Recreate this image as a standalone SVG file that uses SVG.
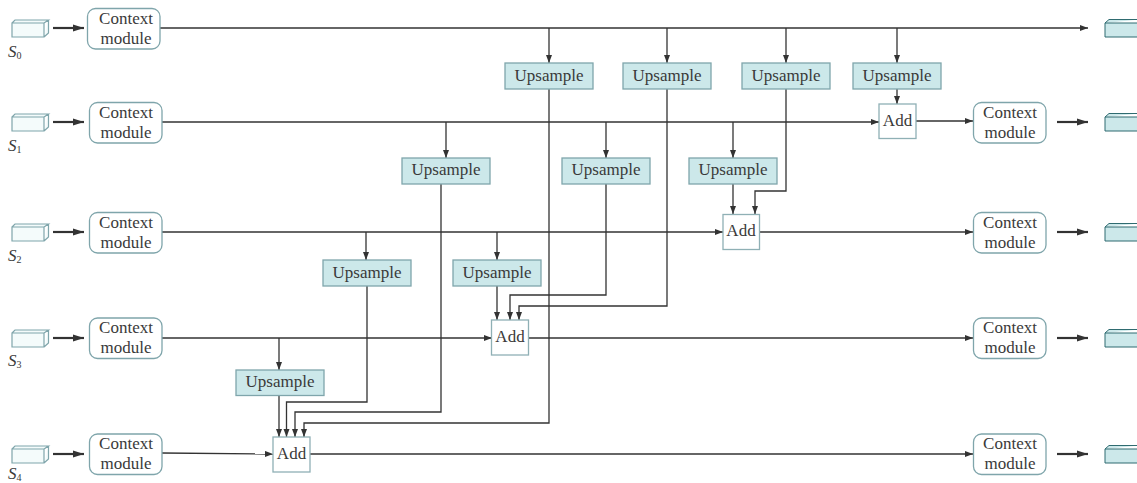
<svg xmlns="http://www.w3.org/2000/svg" width="1137" height="483" viewBox="0 0 1137 483">
<style>
text{font-family:"Liberation Serif","Times New Roman",serif;font-size:17px;fill:#3a3a3a;text-anchor:middle}
.cm{fill:#fff;stroke:#7fa5ab;stroke-width:1.3}
.up{fill:#cce8ea;stroke:#7fa5ab;stroke-width:1.3}
.add{fill:#fff;stroke:#8fb0b5;stroke-width:1.3}
.in path{fill:#f4fbfb;stroke:#7fa5ab;stroke-width:1.2}
.out path{fill:#cce8ea;stroke:#2f6b70;stroke-width:1}
.s{font-style:italic;font-size:17px;text-anchor:start}
.sub{font-style:normal;font-size:10px;text-anchor:start}
#connectors path{fill:none;stroke:#333;stroke-width:1.3;marker-end:url(#a)}
#connectors path.t{stroke-width:2.2;marker-end:url(#b)}
</style>
<defs>
<marker id="a" markerUnits="userSpaceOnUse" markerWidth="9" markerHeight="7" refX="8" refY="3" orient="auto"><path d="M0 0L8 3L0 6Z" fill="#333"/></marker>
<marker id="b" markerUnits="userSpaceOnUse" markerWidth="12" markerHeight="8" refX="11" refY="4" orient="auto"><path d="M0 .5L11 4L0 7.500Z" fill="#333"/></marker>
<g id="cub" class="in"><path d="M12 23H44V37H12ZM12 23L15 20H48.500L44 23M44 37L48.500 33V20"/></g>
<g id="cubo" class="out"><path d="M1105 23H1140V37H1105ZM1105 23L1109 19.500H1140"/></g>
</defs>
<g id="connectors">
<path d="M160 28H1088"/>
<path d="M162 122H879"/>
<path d="M162 232H723"/>
<path d="M162 338H492"/>
<path d="M162 453L273 454"/>
<path d="M916 121H973"/>
<path d="M759 232H973"/>
<path d="M528 338H973"/>
<path d="M310 454H973"/>
<path d="M549 28V63"/><path d="M667 28V63"/><path d="M786 28V63"/><path d="M897 28V63"/>
<path d="M897 89V104"/>
<path d="M446 122V158"/><path d="M606 122V158"/><path d="M733 122V158"/>
<path d="M733 184V214"/>
<path d="M786 89V191H755V214"/>
<path d="M366 232V260"/><path d="M497 232V260"/>
<path d="M497 286V320"/>
<path d="M606 184V295H510V320"/>
<path d="M667 89V306H519V320"/>
<path d="M279 338V370"/>
<path d="M279 395V437"/>
<path d="M367 286V402H286.500V437"/>
<path d="M441 184V412H295V437"/>
<path d="M549 89V423H304V437"/>
<path class="t" d="M53 28H84"/><path class="t" d="M53 122H84"/><path class="t" d="M53 232H84"/><path class="t" d="M53 338H84"/><path class="t" d="M53 454H84"/>
<path class="t" d="M1057 122H1088"/><path class="t" d="M1057 232H1088"/><path class="t" d="M1057 338H1088"/><path class="t" d="M1057 454H1088"/>
</g>
<g id="s0"><use href="#cub"/><text class="s" x="8" y="57">S<tspan class="sub" dy="2">0</tspan></text></g>
<g id="s1"><use href="#cub" y="94"/><text class="s" x="8" y="151">S<tspan class="sub" dy="2">1</tspan></text></g>
<g id="s2"><use href="#cub" y="204"/><text class="s" x="8" y="261">S<tspan class="sub" dy="2">2</tspan></text></g>
<g id="s3"><use href="#cub" y="310"/><text class="s" x="8" y="366">S<tspan class="sub" dy="2">3</tspan></text></g>
<g id="s4"><use href="#cub" y="426"/><text class="s" x="8" y="479">S<tspan class="sub" dy="2">4</tspan></text></g>
<g id="o0"><use href="#cubo"/></g>
<g id="o1"><use href="#cubo" y="94"/></g>
<g id="o2"><use href="#cubo" y="204"/></g>
<g id="o3"><use href="#cubo" y="310"/></g>
<g id="o4"><use href="#cubo" y="426"/></g>
<g id="c0"><rect class="cm" x="87.500" y="8.500" width="72.500" height="40.500" rx="8"/><text x="126" y="24">Context</text><text x="126" y="44">module</text></g>
<g id="c1"><rect class="cm" x="89.500" y="102.500" width="72.500" height="40.500" rx="8"/><text x="126" y="118">Context</text><text x="126" y="138">module</text></g>
<g id="c2"><rect class="cm" x="89.500" y="212.500" width="72.500" height="40.500" rx="8"/><text x="126" y="228">Context</text><text x="126" y="248">module</text></g>
<g id="c3"><rect class="cm" x="89.500" y="318" width="72.500" height="40.500" rx="8"/><text x="126" y="333">Context</text><text x="126" y="353">module</text></g>
<g id="c4"><rect class="cm" x="89.500" y="434" width="72.500" height="40.500" rx="8"/><text x="126" y="449">Context</text><text x="126" y="469">module</text></g>
<g id="r1"><rect class="cm" x="973.500" y="102.500" width="72.500" height="40.500" rx="8"/><text x="1010" y="118">Context</text><text x="1010" y="138">module</text></g>
<g id="r2"><rect class="cm" x="973.500" y="212.500" width="72.500" height="40.500" rx="8"/><text x="1010" y="228">Context</text><text x="1010" y="248">module</text></g>
<g id="r3"><rect class="cm" x="973.500" y="318" width="72.500" height="40.500" rx="8"/><text x="1010" y="333">Context</text><text x="1010" y="353">module</text></g>
<g id="r4"><rect class="cm" x="973.500" y="434" width="72.500" height="40.500" rx="8"/><text x="1010" y="449">Context</text><text x="1010" y="469">module</text></g>
<g id="u01"><rect class="up" x="505" y="63" width="88" height="26"/><text x="549" y="81">Upsample</text></g>
<g id="u02"><rect class="up" x="623" y="63" width="88" height="26"/><text x="667" y="81">Upsample</text></g>
<g id="u03"><rect class="up" x="742" y="63" width="88" height="26"/><text x="786" y="81">Upsample</text></g>
<g id="u04"><rect class="up" x="853" y="63" width="88" height="26"/><text x="897" y="81">Upsample</text></g>
<g id="u11"><rect class="up" x="402" y="158" width="88" height="26"/><text x="446" y="175">Upsample</text></g>
<g id="u12"><rect class="up" x="562" y="158" width="88" height="26"/><text x="606" y="175">Upsample</text></g>
<g id="u13"><rect class="up" x="689" y="158" width="88" height="26"/><text x="733" y="175">Upsample</text></g>
<g id="u21"><rect class="up" x="323" y="260" width="88" height="26"/><text x="367" y="278">Upsample</text></g>
<g id="u22"><rect class="up" x="453" y="260" width="88" height="26"/><text x="497" y="278">Upsample</text></g>
<g id="u31"><rect class="up" x="236" y="370" width="88" height="25.500"/><text x="280" y="387">Upsample</text></g>
<g id="a1"><rect class="add" x="879" y="104" width="37" height="34.500"/><text x="897.500" y="126">Add</text></g>
<g id="a2"><rect class="add" x="723" y="214.500" width="36.500" height="35"/><text x="741" y="236">Add</text></g>
<g id="a3"><rect class="add" x="491.500" y="320" width="37" height="35"/><text x="510" y="342">Add</text></g>
<g id="a4"><rect class="add" x="273" y="437" width="37" height="35"/><text x="291.500" y="459">Add</text></g>
</svg>
